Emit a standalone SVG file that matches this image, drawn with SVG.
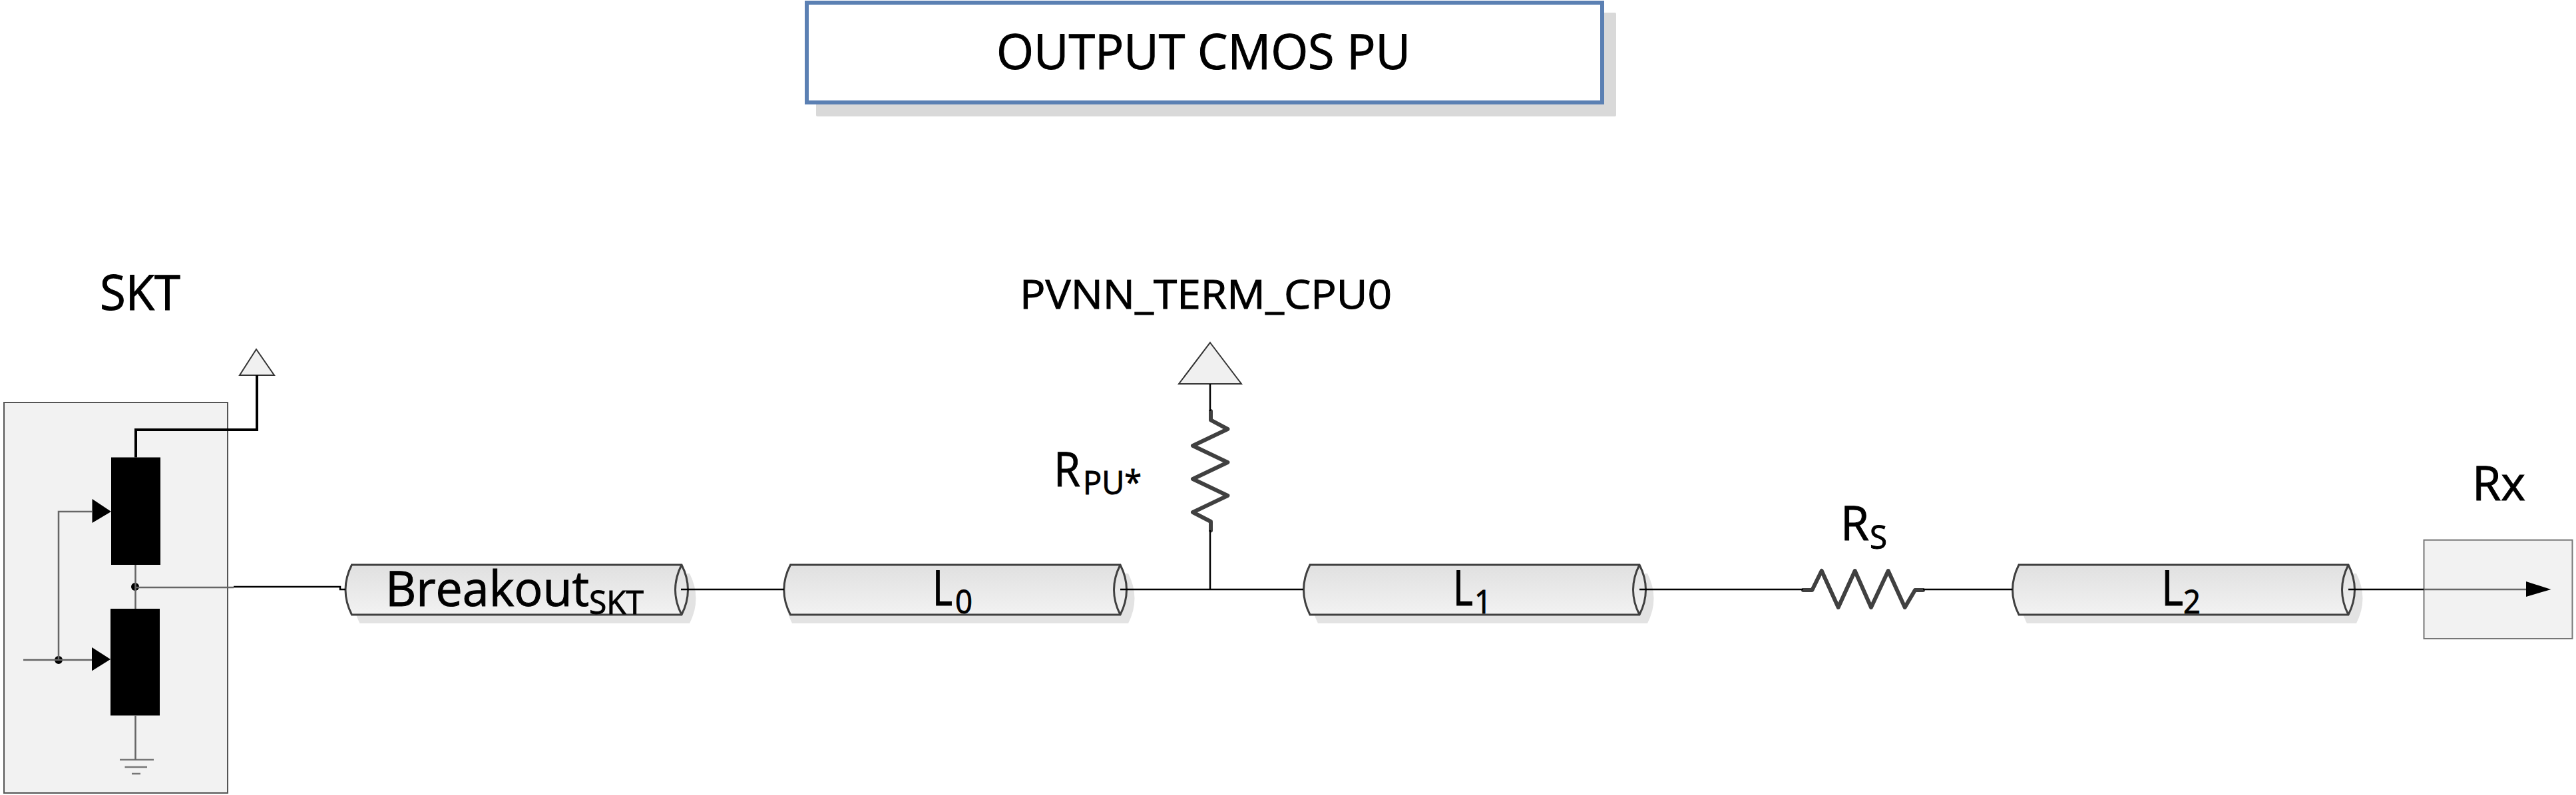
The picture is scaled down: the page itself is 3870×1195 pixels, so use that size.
<svg xmlns="http://www.w3.org/2000/svg" width="3870" height="1195" viewBox="0 0 3870 1195">
<style>
text{font-family:"Open Sans","Noto Sans","Liberation Sans",sans-serif;fill:#000;stroke:#000;stroke-width:1}
.box{fill:#f2f2f2;stroke:#555;stroke-width:2}
.cyl{fill:url(#cg);stroke:#404040;stroke-width:3}
.cap{fill:none;stroke:#404040;stroke-width:3}
.shadow{fill:#e3e3e3;stroke:none}
.w{fill:none;stroke:#000;stroke-width:2.5}
.g{fill:none;stroke:#666;stroke-width:2.5}
.res{fill:none;stroke:#404040;stroke-width:6;stroke-linejoin:round;stroke-linecap:round}
.gnd{stroke:#777;stroke-width:2.5;fill:none}
.tri{fill:#f0f0f0;stroke:#333;stroke-width:2}
</style>
<defs>
<linearGradient id="cg" x1="0" y1="0" x2="0" y2="1"><stop offset="0" stop-color="#e0e0e0"/><stop offset="1" stop-color="#f2f2f2"/></linearGradient>
</defs>
<g id="title">
<rect x="1226" y="19" width="1202" height="156" rx="2" fill="#d9d9d9"/>
<rect x="1212" y="4" width="1195" height="150" fill="#fff" stroke="#5b80b3" stroke-width="6"/>
<text x="1497" y="104" font-size="74" textLength="622" lengthAdjust="spacingAndGlyphs">OUTPUT CMOS PU</text>
</g>
<g id="skt">
<rect class="box" x="6" y="605" width="336" height="587"/>
<text x="150" y="466" font-size="74" textLength="121" lengthAdjust="spacingAndGlyphs">SKT</text>
<path class="tri" d="M385,525 L412,564 H360 Z"/>
<rect x="167" y="687.500" width="74" height="161.500" fill="#000"/>
<rect x="166" y="915" width="74" height="160.500" fill="#000"/>
<path d="M138.500,750 L167,769 L138.500,786 Z" fill="#000"/>
<path d="M138,973 L166,991 L138,1008.500 Z" fill="#000"/>
<circle cx="88" cy="992" r="6" fill="#000"/>
<circle cx="203" cy="882" r="6" fill="#000"/>
<path class="gnd" d="M180,1142 H231 M187.500,1153 H221 M198,1163 H211"/>
</g>
<g id="breakout">
<path class="shadow" d="M540.500,862 H1036 Q1055,899.500 1036,937 H540.500 Q521.500,899.500 540.500,862 Z"/>
<path class="cyl" d="M528.500,849 H1024 Q1043,886.500 1024,924 H528.500 Q509.500,886.500 528.500,849 Z"/>
<path class="cap" d="M1024,849 Q1005,886.500 1024,924"/>
<text x="579" y="911" font-size="73"><tspan textLength="306" lengthAdjust="spacingAndGlyphs">Breakout</tspan><tspan x="885" y="923" font-size="49" textLength="82" lengthAdjust="spacingAndGlyphs">SKT</tspan></text>
</g>
<g id="l0">
<path class="shadow" d="M1190,862 H1695 Q1714,899.500 1695,937 H1190 Q1171,899.500 1190,862 Z"/>
<path class="cyl" d="M1187.500,849 H1683 Q1702,886.500 1683,924 H1187.500 Q1168,886.500 1187.500,849 Z"/>
<path class="cap" d="M1683,849 Q1664,886.500 1683,924"/>
<text x="1401" y="910" font-size="73"><tspan textLength="30" lengthAdjust="spacingAndGlyphs">L</tspan><tspan x="1435" y="922" font-size="49" textLength="26" lengthAdjust="spacingAndGlyphs">0</tspan></text>
</g>
<g id="rpu">
<path class="tri" d="M1818,515 L1865,577 H1771 Z"/>
<path class="res" d="M1819,618 V631.400 L1844.400,645 L1792,670 L1844.400,695 L1792,720 L1844.400,745 L1792,770 L1819,784 V797.500"/>
<text x="1583" y="731" font-size="72"><tspan textLength="40" lengthAdjust="spacingAndGlyphs">R</tspan><tspan x="1627" y="743" font-size="49" textLength="88" lengthAdjust="spacingAndGlyphs">PU*</tspan></text>
<text x="1532" y="464" font-size="61" textLength="559" lengthAdjust="spacingAndGlyphs">PVNN_TERM_CPU0</text>
</g>
<g id="l1">
<path class="shadow" d="M1980,862 H2475 Q2494,899.500 2475,937 H1980 Q1961,899.500 1980,862 Z"/>
<path class="cyl" d="M1968,849 H2463 Q2482,886.500 2463,924 H1968 Q1949,886.500 1968,849 Z"/>
<path class="cap" d="M2463,849 Q2444,886.500 2463,924"/>
<text x="2183" y="910" font-size="73"><tspan textLength="30" lengthAdjust="spacingAndGlyphs">L</tspan><tspan x="2215" y="922" font-size="49" textLength="26" lengthAdjust="spacingAndGlyphs">1</tspan></text>
</g>
<g id="rs">
<path class="res" d="M2709,887 H2722.400 L2736.700,858 L2761.700,913 L2786.700,858 L2811,913 L2836.700,858 L2861.700,913 L2877,887 H2889"/>
<text x="2765" y="812" font-size="72"><tspan textLength="43" lengthAdjust="spacingAndGlyphs">R</tspan><tspan x="2809" y="825" font-size="49" textLength="26" lengthAdjust="spacingAndGlyphs">S</tspan></text>
</g>
<g id="l2">
<path class="shadow" d="M3045,862 H3540 Q3559,899.500 3540,937 H3045 Q3026,899.500 3045,862 Z"/>
<path class="cyl" d="M3033,849 H3528 Q3547,886.500 3528,924 H3033 Q3014,886.500 3033,849 Z"/>
<path class="cap" d="M3528,849 Q3509,886.500 3528,924"/>
<text x="3247" y="910" font-size="73"><tspan textLength="33" lengthAdjust="spacingAndGlyphs">L</tspan><tspan x="3280" y="922" font-size="49" textLength="26" lengthAdjust="spacingAndGlyphs">2</tspan></text>
</g>
<g id="rx">
<rect class="box" x="3641.500" y="811.700" width="223" height="148.300" style="stroke:#777"/>
<text x="3714" y="752" font-size="72" textLength="80" lengthAdjust="spacingAndGlyphs">Rx</text>
</g>
<g id="connectors">
<path d="M204,687.500 V646 H386 V564" fill="none" stroke="#000" stroke-width="4"/>
<path class="g" d="M35,992 H138 M88,992 V769 H138.500 M203.500,849 V915 M203.500,1075 V1142 M203,883 H351"/>
<path class="w" d="M351,882 H511 V886 H519"/>
<path class="w" d="M1023,886 H1178"/>
<path class="w" d="M1683,886 H1958 M1818,577 V618 M1818,797 V886"/>
<path class="w" d="M2463,886 H2709 M2889,886 H3023.500"/>
<path class="w" d="M3528,886 H3641.500"/>
<path class="g" d="M3641.500,886 H3795"/>
<path d="M3795,874 L3832.500,886 L3795,897 Z" fill="#000"/>
</g>
</svg>
